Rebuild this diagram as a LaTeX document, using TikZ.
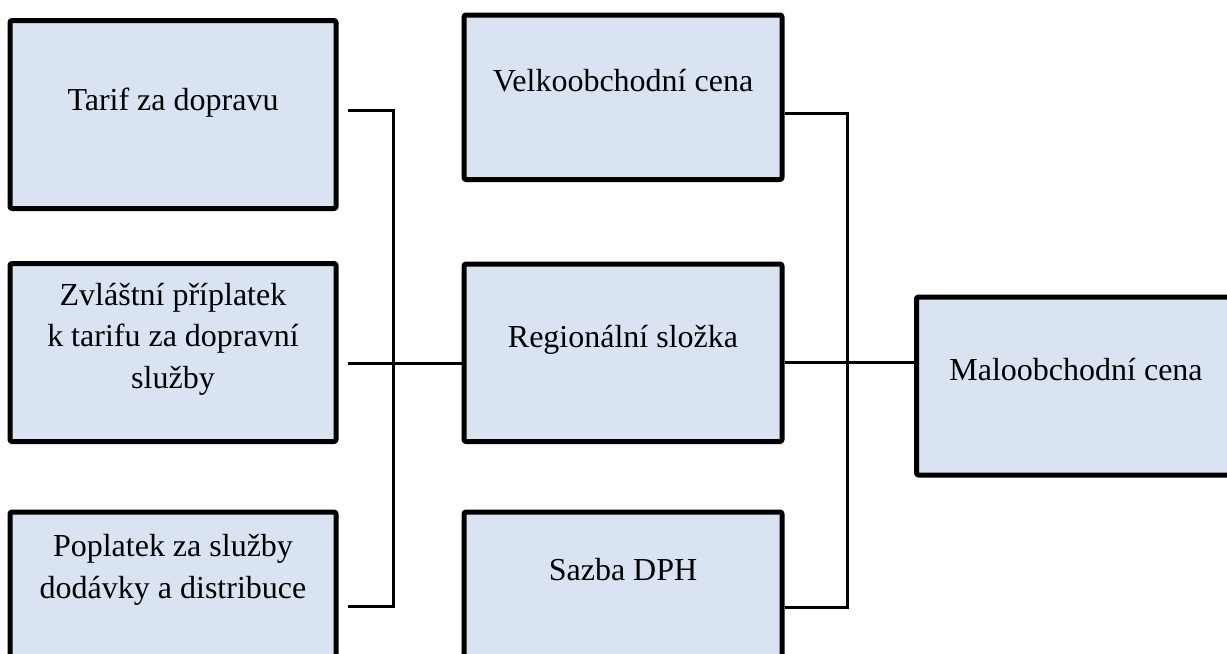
\documentclass[tikz,border=0pt]{standalone}
\usepackage{fontspec}
\setmainfont{Liberation Serif}
\definecolor{boxfill}{HTML}{DAE3F1}
\newdimen\pxu
\pxu=0.75pt
\begin{document}
\begin{tikzpicture}[x=0.75pt,y=-0.75pt,
  box/.style={draw=black, line width=3.75pt, fill=boxfill, rounded corners=1.5pt, inner sep=0pt, line join=round},
  txt/.style={font=\fontsize{24}{31.1}\selectfont, align=center, anchor=base, inner sep=0pt},
  link/.style={line width=2.25pt, draw=black}]
\useasboundingbox (0,0) rectangle (1227,653);
\clip (0,0) rectangle (1227,653);
% boxes
\node[box, minimum width=326\pxu, minimum height=188\pxu] (L1) at (173,114.5) {};
\node[box, minimum width=326\pxu, minimum height=178\pxu] (L2) at (173,352.5) {};
\node[box, minimum width=326\pxu, minimum height=178\pxu] (L3) at (173,601) {};
\node[box, minimum width=318\pxu, minimum height=164.5\pxu] (M1) at (623,97.25) {};
\node[box, minimum width=318\pxu, minimum height=177.5\pxu] (M2) at (623,352.75) {};
\node[box, minimum width=318\pxu, minimum height=178\pxu] (M3) at (623,601) {};
\node[box, minimum width=323.5\pxu, minimum height=178\pxu] (R) at (1078.25,386) {};
% texts (base anchor = baseline of the last line)
\node[txt] (t1) at (173,110) {Tarif za dopravu};
\node[txt] (t2) at (173,388) {Zvláštní příplatek\\k tarifu za dopravní\\služby};
\node[txt] (t3) at (173,598) {Poplatek za služby\\dodávky a distribuce};
\node[txt] (t4) at (623,91) {Velkoobchodní cena};
\node[txt] (t5) at (623,347) {Regionální složka};
\node[txt] (t6) at (623,580) {Sazba DPH};
\node[txt] (t7) at (1076,380) {Maloobchodní cena};
% buses
\coordinate (busL) at (393,363);
\coordinate (busR) at (847,362);
\draw[link] ([shift={(9,-4)}]L1.east) -| (busL);
\draw[link] ([shift={(9,5.5)}]L3.east) -| (busL);
\draw[link] ([xshift=9\pxu]L2.east |- busL) -- (M2.west |- busL);
\draw[link] ([yshift=-15.75\pxu]M1.east) -| (busR);
\draw[link] ([yshift=-6\pxu]M3.east) -| (busR);
\draw[link] (M2.east |- busR) -- (R.west |- busR);
\end{tikzpicture}
\end{document}
